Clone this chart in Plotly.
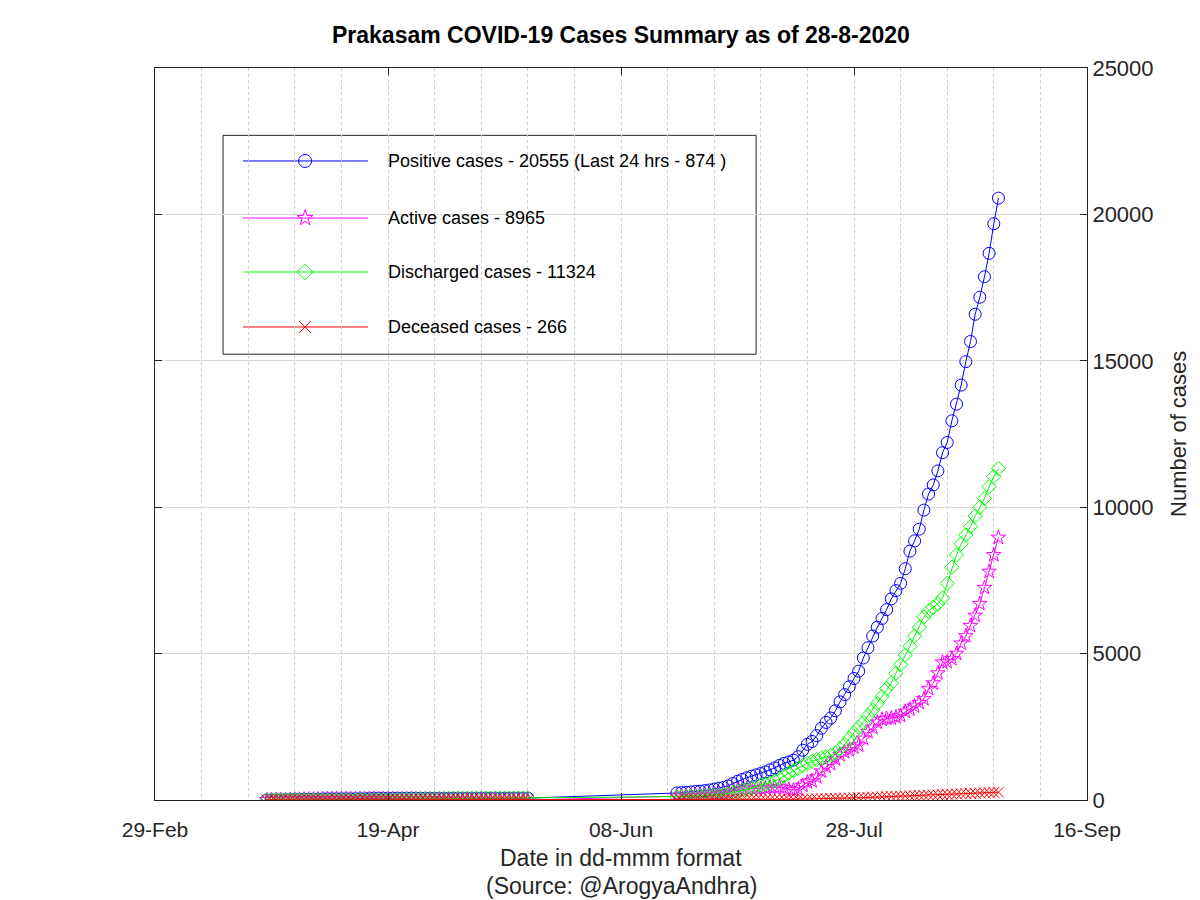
import pandas as pd
import plotly.graph_objects as go

# ---------------- data ----------------
seg1_start = "2020-03-24"
seg2_start = "2020-06-20"

positive_1 = [2, 3, 4, 4, 8, 11, 17, 17, 23, 24,
              24, 27, 38, 41, 41, 42, 42, 42, 42, 44,
              44, 44, 53, 53, 53, 56, 56, 56, 56, 57,
              60, 61, 61, 61, 61, 61, 61, 61, 61, 61,
              61, 63, 63, 63, 63, 63, 63, 63, 63, 63,
              63, 63, 63, 63, 63, 63, 64]
active_1 = [2, 3, 4, 4, 8, 11, 17, 17, 23, 24,
            24, 27, 38, 41, 41, 42, 42, 40, 40, 40,
            40, 38, 47, 45, 43, 44, 41, 38, 34, 33,
            34, 31, 27, 24, 21, 19, 16, 13, 11, 9,
            8, 8, 7, 6, 5, 5, 4, 3, 3, 2,
            2, 2, 1, 1, 1, 1, 2]
discharged_1 = [0, 0, 0, 0, 0, 0, 0, 0, 0, 0,
                0, 0, 0, 0, 0, 0, 0, 2, 2, 4,
                4, 6, 6, 8, 10, 12, 15, 18, 22, 24,
                26, 30, 34, 37, 40, 42, 45, 48, 50, 52,
                53, 55, 56, 57, 58, 58, 59, 60, 60, 61,
                61, 61, 62, 62, 62, 62, 62]
deceased_1 = [0, 0, 0, 0, 0, 0, 0, 0, 0, 0,
              0, 0, 0, 0, 0, 0, 0, 0, 0, 0,
              0, 0, 0, 0, 0, 0, 0, 0, 0, 0,
              0, 0, 0, 0, 0, 0, 0, 0, 0, 0,
              0, 0, 0, 0, 0, 0, 0, 0, 0, 0,
              0, 0, 0, 0, 0, 0, 0]

positive_2 = [240, 250, 262, 275, 290, 302, 320, 342, 370, 400,
              430, 480, 560, 640, 700, 760, 810, 860, 905, 960,
              1030, 1100, 1180, 1250, 1300, 1360, 1480, 1700, 1900, 2000,
              2200, 2450, 2650, 2800, 3050, 3350, 3600, 3870, 4150, 4400,
              4850, 5200, 5600, 5900, 6200, 6500, 6870, 7150, 7400, 7900,
              8500, 8850, 9250, 9900, 10450, 10760, 11240, 11860, 12210, 12950,
              13520, 14170, 14970, 15660, 16590, 17170, 17870, 18670, 19681, 20555]
active_2 = [127, 132, 139, 146, 156, 158, 165, 177, 195, 214,
            234, 253, 293, 332, 361, 390, 399, 398, 392, 406,
            435, 434, 442, 410, 358, 336, 374, 492, 609, 646,
            783, 980, 1136, 1232, 1398, 1544, 1640, 1706, 1800, 1870,
            2100, 2330, 2480, 2650, 2750, 2780, 2790, 2830, 2880, 3020,
            3100, 3200, 3320, 3450, 3800, 3990, 4330, 4700, 4720, 4820,
            5000, 5350, 5600, 5950, 6300, 6700, 7250, 7800, 8370, 8965]
discharged_2 = [110, 115, 120, 125, 130, 140, 150, 160, 170, 180,
                190, 220, 260, 300, 330, 360, 400, 450, 500, 540,
                580, 650, 720, 820, 920, 1000, 1080, 1180, 1260, 1320,
                1380, 1430, 1470, 1520, 1600, 1750, 1900, 2100, 2300, 2480,
                2650, 2880, 3070, 3300, 3530, 3800, 3990, 4330, 4620, 4950,
                5250, 5600, 5900, 6250, 6450, 6580, 6700, 6900, 7400, 7950,
                8370, 8750, 9050, 9340, 9700, 10000, 10300, 10700, 11050, 11324]
deceased_2 = [3, 3, 3, 4, 4, 4, 5, 5, 5, 6,
              6, 7, 7, 8, 9, 10, 11, 12, 13, 14,
              15, 16, 18, 20, 22, 24, 26, 28, 31, 34,
              37, 40, 44, 48, 52, 56, 60, 64, 69, 74,
              80, 86, 92, 98, 104, 110, 116, 122, 128, 134,
              140, 146, 152, 158, 164, 170, 176, 183, 190, 197,
              204, 211, 218, 225, 232, 239, 246, 252, 259, 266]

tick_dates = ["2020-02-29", "2020-04-19", "2020-06-08", "2020-07-28", "2020-09-16"]
tick_labels = ["29-Feb", "19-Apr", "08-Jun", "28-Jul", "16-Sep"]
y_ticks = [0, 5000, 10000, 15000, 20000, 25000]

legend_labels = ["Positive cases - 20555 (Last 24 hrs - 874 )",
                 "Active cases - 8965",
                 "Discharged cases - 11324",
                 "Deceased cases - 266"]

# ---------------- build ----------------
dates = (list(pd.date_range(seg1_start, periods=len(positive_1), freq="D")) +
         list(pd.date_range(seg2_start, periods=len(positive_2), freq="D")))

series = [
    (positive_1 + positive_2, "#0000ff", "circle-open", 12),
    (active_1 + active_2, "#ff00ff", "star-open", 11),
    (discharged_1 + discharged_2, "#00ff00", "diamond-open", 11),
    (deceased_1 + deceased_2, "#ff0000", "x-thin-open", 11),
]

FONT = "Liberation Sans, Arial, Helvetica, sans-serif"
AX = "#262626"

fig = go.Figure()
for (vals, col, sym, sz), name in zip(series, legend_labels):
    fig.add_trace(go.Scatter(
        x=dates, y=vals, mode="lines+markers", name=name,
        line=dict(color=col, width=1),
        marker=dict(symbol=sym, size=sz, color=col, line=dict(color=col, width=1)),
    ))

# custom legend (box, line samples, markers, text)
lx0, lx1, ly0, ly1 = 0.073, 0.645, 0.609, 0.908
rows = [0.873, 0.795, 0.7213, 0.6462]
shapes = [dict(type="rect", xref="paper", yref="paper", x0=lx0, x1=lx1, y0=ly0, y1=ly1,
               line=dict(color=AX, width=1), fillcolor="white", layer="between")]
annotations = []
for (vals, col, sym, sz), name, ry in zip(series, legend_labels, rows):
    shapes.append(dict(type="line", xref="paper", yref="paper", x0=0.0944, x1=0.2285,
                       y0=ry, y1=ry, line=dict(color=col, width=1), layer="between"))
    fig.add_trace(go.Scatter(
        x=[0.161], y=[ry], xaxis="x2", yaxis="y2", mode="markers", showlegend=False,
        marker=dict(symbol=sym, size=sz + 1, color=col, line=dict(color=col, width=1)),
        hoverinfo="skip"))
    annotations.append(dict(xref="paper", yref="paper", x=0.248, y=ry, text=name,
                            showarrow=False, xanchor="left", yanchor="middle",
                            font=dict(family=FONT, size=18, color="black")))

annotations += [
    dict(xref="paper", yref="paper", x=0.5, y=1.045,
         text="<b>Prakasam COVID-19 Cases Summary as of 28-8-2020</b>",
         showarrow=False, xanchor="center", yanchor="middle",
         font=dict(family=FONT, size=23, color="black")),
    dict(xref="paper", yref="paper", x=0.5, y=-0.079, text="Date in dd-mmm format",
         showarrow=False, xanchor="center", yanchor="middle",
         font=dict(family=FONT, size=23, color=AX)),
    dict(xref="paper", yref="paper", x=0.5, y=-0.1175, text="(Source: @ArogyaAndhra)",
         showarrow=False, xanchor="center", yanchor="middle",
         font=dict(family=FONT, size=23, color=AX)),
    dict(xref="paper", yref="paper", x=1.0976, y=0.5, text="Number of cases",
         showarrow=False, xanchor="center", yanchor="middle", textangle=-90,
         font=dict(family=FONT, size=22, color=AX)),
]

GRID_DOT = "#cccccc"
fig.update_layout(
    width=1200, height=900,
    margin=dict(l=147, r=121, t=60, b=108),
    paper_bgcolor="white", plot_bgcolor="white",
    showlegend=False,
    shapes=shapes, annotations=annotations,
    xaxis=dict(type="date", range=[tick_dates[0], tick_dates[-1]],
               tickmode="array", tickvals=tick_dates, ticktext=tick_labels,
               ticks="inside", ticklen=7, tickcolor=AX, ticklabelstandoff=11,
               showline=True, linecolor=AX, linewidth=1, mirror="ticks",
               showgrid=True, gridcolor=GRID_DOT, griddash="dot", gridwidth=1,
               minor=dict(dtick=864000000, tick0=tick_dates[0], showgrid=True,
                          gridcolor=GRID_DOT, griddash="dot", gridwidth=1),
               zeroline=False, tickfont=dict(family=FONT, size=21, color=AX)),
    yaxis=dict(side="right", range=[0, 25000], tickmode="array", tickvals=y_ticks,
               ticktext=[str(v) for v in y_ticks],
               ticks="inside", ticklen=7, tickcolor=AX,
               showline=True, linecolor=AX, linewidth=1, mirror="ticks",
               showgrid=True, gridcolor="#dadada", gridwidth=1,
               zeroline=False, tickfont=dict(family=FONT, size=22, color=AX)),
    xaxis2=dict(overlaying="x", range=[0, 1], visible=False, fixedrange=True),
    yaxis2=dict(overlaying="y", range=[0, 1], visible=False, fixedrange=True),
)

fig.write_html("out.html")
